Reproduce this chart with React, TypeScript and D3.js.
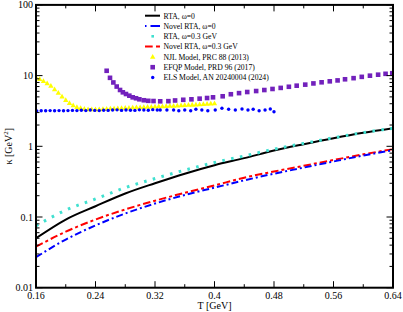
import React from "react";
import * as d3 from "d3";

const T_GRID = [0.16, 0.2, 0.24, 0.28, 0.32, 0.36, 0.4, 0.44, 0.48, 0.52, 0.56, 0.6, 0.64];
const rtaW0 = [0.05, 0.092, 0.142, 0.215, 0.3, 0.41, 0.54, 0.68, 0.87, 1.07, 1.3, 1.55, 1.8];
const novelW0 = [0.027, 0.048, 0.076, 0.112, 0.155, 0.205, 0.26, 0.33, 0.41, 0.5, 0.61, 0.74, 0.88];
const rtaW03 = [0.075, 0.125, 0.18, 0.26, 0.35, 0.46, 0.59, 0.73, 0.91, 1.1, 1.32, 1.56, 1.8];
const novelW03 = [0.038, 0.062, 0.092, 0.128, 0.17, 0.22, 0.28, 0.36, 0.44, 0.53, 0.64, 0.77, 0.91];

const njlT = [0.16,0.165,0.17,0.175,0.18,0.185,0.19,0.195,0.2,0.205,0.21,0.215,0.22,0.225,0.23,0.235,0.24,0.245,0.25,0.255,0.26,0.265,0.27,0.275,0.28,0.285,0.29,0.295,0.3,0.305,0.31,0.315,0.32,0.325,0.33,0.335,0.34,0.345,0.35,0.355,0.36,0.365,0.37,0.375,0.38,0.385,0.39,0.395,0.4];
const njlK = [9.5,8.95,8.4,7.8,7.15,6.4,5.7,5.05,4.5,4.1,3.8,3.6,3.47,3.38,3.34,3.33,3.34,3.35,3.37,3.39,3.41,3.43,3.45,3.47,3.49,3.51,3.53,3.55,3.57,3.59,3.61,3.63,3.65,3.67,3.69,3.71,3.73,3.75,3.77,3.79,3.82,3.85,3.88,3.91,3.94,3.97,4.0,4.03,4.06];

const efqpT = [0.255,0.2595,0.264,0.2685,0.273,0.2768,0.281,0.2855,0.29,0.2945,0.299,0.305,0.311,0.318,0.327,0.338,0.347,0.358,0.369,0.38,0.39,0.398,0.411,0.422,0.433,0.444,0.456,0.467,0.478,0.489,0.5,0.5105,0.522,0.533,0.544,0.555,0.5655,0.5755,0.587,0.598,0.609,0.62,0.63,0.639];
const efqpK = [11.7,9.3,8.0,7.0,6.26,5.8,5.49,5.2,4.93,4.78,4.62,4.48,4.4,4.37,4.33,4.35,4.45,4.55,4.62,4.72,4.82,4.93,5.1,5.45,5.65,5.86,6.05,6.25,6.47,6.7,6.95,7.2,7.45,7.75,8.04,8.3,8.55,8.87,9.2,9.6,9.97,10.3,10.6,10.8];

const elsT = [0.161,0.167,0.173,0.179,0.185,0.191,0.197,0.203,0.209,0.215,0.221,0.227,0.233,0.239,0.245,0.251,0.257,0.263,0.269,0.275,0.281,0.287,0.293,0.299,0.305,0.311,0.317,0.323,0.327,0.336,0.345,0.352,0.36,0.368,0.375,0.383,0.391,0.401,0.41,0.419,0.428,0.437,0.445,0.452,0.46,0.468,0.475,0.48];
const elsK = [3.16,3.18,3.18,3.2,3.18,3.2,3.19,3.2,3.22,3.2,3.24,3.2,3.26,3.22,3.2,3.24,3.22,3.26,3.28,3.22,3.26,3.24,3.22,3.28,3.26,3.24,3.3,3.26,3.26,3.26,3.26,3.19,3.26,3.19,3.34,3.26,3.19,3.26,3.45,3.34,3.26,3.37,3.26,3.34,3.19,3.26,3.37,3.08];

const xTicks = [0.16, 0.24, 0.32, 0.4, 0.48, 0.56, 0.64];
const xTickLabels = ["0.16", "0.24", "0.32", "0.4", "0.48", "0.56", "0.64"];
const yTicks = [0.01, 0.1, 1, 10, 100];
const yTickLabels = ["0.01", "0.1", "1", "10", "100"];

const legendLabels = [
  "RTA, \u03c9=0",
  "Novel RTA, \u03c9=0",
  "RTA, \u03c9=0.3 GeV",
  "Novel RTA, \u03c9=0.3 GeV",
  "NJL Model, PRC 88 (2013)",
  "EFQP Model, PRD 96 (2017)",
  "ELS Model, AN 20240004 (2024)",
];

const BLUE = "#0000ff";
const RED = "#ff0000";
const CYAN = "#40e0d0";
const YELLOW = "#ffff00";
const PURPLE = "#7221bc";
const FONT = "'Liberation Serif', 'Times New Roman', serif";

export default function App() {
  const L = 36, R = 393, Tp = 4.9, B = 287.7;
  const x = d3.scaleLinear().domain([0.16, 0.64]).range([L, R]);
  const y = d3.scaleLog().domain([0.01, 100]).range([B, Tp]);
  const line = d3.line<[number, number]>().x((d) => x(d[0])).y((d) => y(d[1])).curve(d3.curveMonotoneX);
  const pts = (vals: number[]) => T_GRID.map((t, i) => [t, vals[i]] as [number, number]);

  const xMinor = d3.range(0.2, 0.64, 0.08);
  const yMinor: number[] = [];
  [0.01, 0.1, 1, 10].forEach((d) => { for (let k = 2; k <= 9; k++) yMinor.push(d * k); });

  const tri = (cx: number, cy: number, s: number) =>
    `M${cx},${cy - s}L${cx + s * 0.95},${cy + s * 0.7}L${cx - s * 0.95},${cy + s * 0.7}Z`;

  const legX0 = 145, legX1 = 160, legTx = 163.5, legY0 = 15.7, legDy = 10.3;

  return (
    <svg width={403} height={312} style={{ position: "absolute", left: 0, top: 0, background: "#fff" }} fontFamily={FONT}>
      <defs>
        <clipPath id="plot"><rect x={L} y={Tp} width={R - L} height={B - Tp} /></clipPath>
      </defs>
      <g clipPath="url(#plot)">
        <path d={line(pts(rtaW0)) || ""} fill="none" stroke="#000" strokeWidth={2} />
        <path d={line(pts(novelW03)) || ""} fill="none" stroke={RED} strokeWidth={2} strokeDasharray="7.5,3,3,3" />
        <path d={line(pts(novelW0)) || ""} fill="none" stroke={BLUE} strokeWidth={2} strokeDasharray="7,3,2,3" />
        <path d={line(pts(rtaW03)) || ""} fill="none" stroke={CYAN} strokeWidth={3} strokeDasharray="2.6,6.4" />
        {njlT.map((t, i) => (
          <path key={"n" + i} d={tri(x(t), y(njlK[i]), 2.8)} fill={YELLOW} />
        ))}
        {efqpT.map((t, i) => (
          <rect key={"e" + i} x={x(t) - 2.3} y={y(efqpK[i]) - 2.3} width={4.6} height={4.6} fill={PURPLE} />
        ))}
        {elsT.map((t, i) => (
          <circle key={"s" + i} cx={x(t)} cy={y(elsK[i])} r={1.7} fill={BLUE} />
        ))}
      </g>

      {/* frame */}
      <rect x={L} y={Tp} width={R - L} height={B - Tp} fill="none" stroke="#000" strokeWidth={2} />

      {/* x ticks */}
      {xTicks.map((t, i) => (
        <g key={"xt" + i}>
          <line x1={x(t)} x2={x(t)} y1={B} y2={B - 6.5} stroke="#000" strokeWidth={1} />
          <line x1={x(t)} x2={x(t)} y1={Tp} y2={Tp + 6.5} stroke="#000" strokeWidth={1} />
          <text x={x(t)} y={299} fontSize={10} textAnchor="middle">{xTickLabels[i]}</text>
        </g>
      ))}
      {xMinor.map((t, i) => (
        <g key={"xm" + i}>
          <line x1={x(t)} x2={x(t)} y1={B} y2={B - 3.5} stroke="#000" strokeWidth={1} />
          <line x1={x(t)} x2={x(t)} y1={Tp} y2={Tp + 3.5} stroke="#000" strokeWidth={1} />
        </g>
      ))}
      {/* y ticks */}
      {yTicks.map((t, i) => (
        <g key={"yt" + i}>
          <line x1={L} x2={L + 6.5} y1={y(t)} y2={y(t)} stroke="#000" strokeWidth={1} />
          <line x1={R} x2={R - 6.5} y1={y(t)} y2={y(t)} stroke="#000" strokeWidth={1} />
          <text x={33} y={y(t) + 3.5} fontSize={10} textAnchor="end">{yTickLabels[i]}</text>
        </g>
      ))}
      {yMinor.map((t, i) => (
        <g key={"ym" + i}>
          <line x1={L} x2={L + 3.5} y1={y(t)} y2={y(t)} stroke="#000" strokeWidth={1} />
          <line x1={R} x2={R - 3.5} y1={y(t)} y2={y(t)} stroke="#000" strokeWidth={1} />
        </g>
      ))}

      {/* axis titles */}
      <text x={(L + R) / 2} y={309} fontSize={10} textAnchor="middle">T [GeV]</text>
      <text transform={`translate(12,${(Tp + B) / 2}) rotate(-90)`} fontSize={10} textAnchor="middle">
        {"\u03ba [GeV"}<tspan dy={-4} fontSize={7}>2</tspan><tspan dy={4}>]</tspan>
      </text>

      {/* legend */}
      <g fontSize={7.7}>
        <line x1={legX0} x2={legX1} y1={legY0} y2={legY0} stroke="#000" strokeWidth={2} />
        <line x1={legX0} x2={legX1} y1={legY0 + legDy} y2={legY0 + legDy} stroke={BLUE} strokeWidth={2} strokeDasharray="1.5,4,9.5,3" />
        <rect x={152.7 - 1.3} y={legY0 + 2 * legDy - 1.3} width={2.6} height={2.6} fill={CYAN} />
        <line x1={legX0} x2={legX1} y1={legY0 + 3 * legDy} y2={legY0 + 3 * legDy} stroke={RED} strokeWidth={2} strokeDasharray="7.7,3.3,4,3" />
        <path d={tri(152.7, legY0 + 4 * legDy, 2.8)} fill={YELLOW} />
        <rect x={152.7 - 2.3} y={legY0 + 5 * legDy - 2.3} width={4.6} height={4.6} fill={PURPLE} />
        <circle cx={152.7} cy={legY0 + 6 * legDy} r={1.7} fill={BLUE} />
        {legendLabels.map((s, i) => (
          <text key={"lg" + i} x={legTx} y={legY0 + i * legDy + 2.8} >{s}</text>
        ))}
      </g>
    </svg>
  );
}
